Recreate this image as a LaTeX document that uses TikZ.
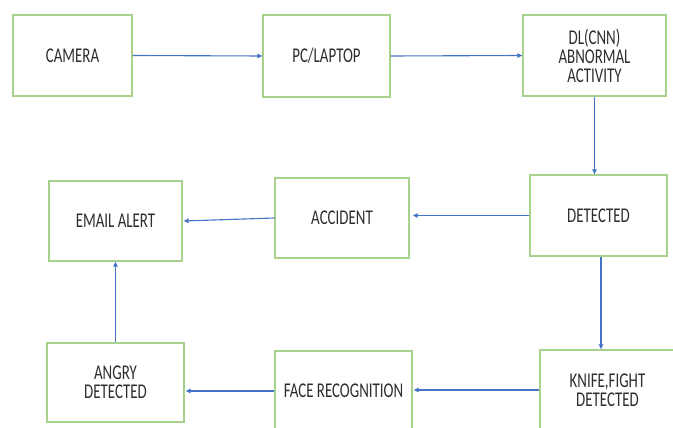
\documentclass[tikz,border=0pt]{standalone}
\usepackage{fontspec}
\setmainfont{Carlito}[FakeStretch=0.71]
\usetikzlibrary{arrows.meta}
\definecolor{boxgreen}{RGB}{169,209,142}
\definecolor{arrowblue}{RGB}{68,114,196}
\definecolor{txt}{RGB}{45,45,45}
\tikzset{
  box/.style={draw=boxgreen, line width=1.3pt, fill=white, rectangle, inner sep=2pt,
    align=center, text=txt, font=\fontsize{21}{19}\selectfont},
  flow/.style={draw=arrowblue, line width=1.1pt, -{Triangle[length=5pt,width=4.5pt]}}
}
\begin{document}
\begin{tikzpicture}[x=1pt,y=-1pt]
\useasboundingbox (0,0) rectangle (673,428);
\clip (0,0) rectangle (673,428);
\node[box, minimum width=119pt, minimum height=81pt] (cam) at (72.5,55.5) {CAMERA};
\node[box, minimum width=127pt, minimum height=82pt] (pc) at (326.5,56) {PC/LAPTOP};
\node[box, minimum width=143pt, minimum height=81pt] (dl) at (594.5,55.5) {DL(CNN)\\ABNORMAL\\ACTIVITY};
\node[box, minimum width=137pt, minimum height=81pt] (det) at (598.5,215.5) {DETECTED};
\node[box, minimum width=134pt, minimum height=80pt] (acc) at (342,218) {ACCIDENT};
\node[box, minimum width=133pt, minimum height=80pt] (email) at (115.5,221) {EMAIL ALERT};
\node[box, minimum width=135pt, minimum height=80pt] (knife) at (607.5,390) {KNIFE,FIGHT\\DETECTED};
\node[box, minimum width=137pt, minimum height=80pt] (face) at (343.5,391) {FACE RECOGNITION};
\node[box, minimum width=137pt, minimum height=79pt] (angry) at (115.5,382.5) {ANGRY\\DETECTED};
\draw[flow] (cam.east) -- (pc.west);
\draw[flow] (pc.east) -- (dl.west);
\draw[flow] (dl.south) -- (dl.south |- det.north);
\draw[flow] (det.west) -- ([xshift=3pt]det.west -| acc.east);
\draw[flow] (acc.west) -- ([xshift=1pt]email.east);
\draw[flow] ([xshift=2.5pt]det.south) -- ([xshift=2.5pt]det.south |- knife.north);
\draw[flow] (knife.west) -- ([xshift=1pt]knife.west -| face.east);
\draw[flow] (face.west) -- ([xshift=1pt]face.west -| angry.east);
\draw[flow] (angry.north) -- (email.south);
\end{tikzpicture}
\end{document}
